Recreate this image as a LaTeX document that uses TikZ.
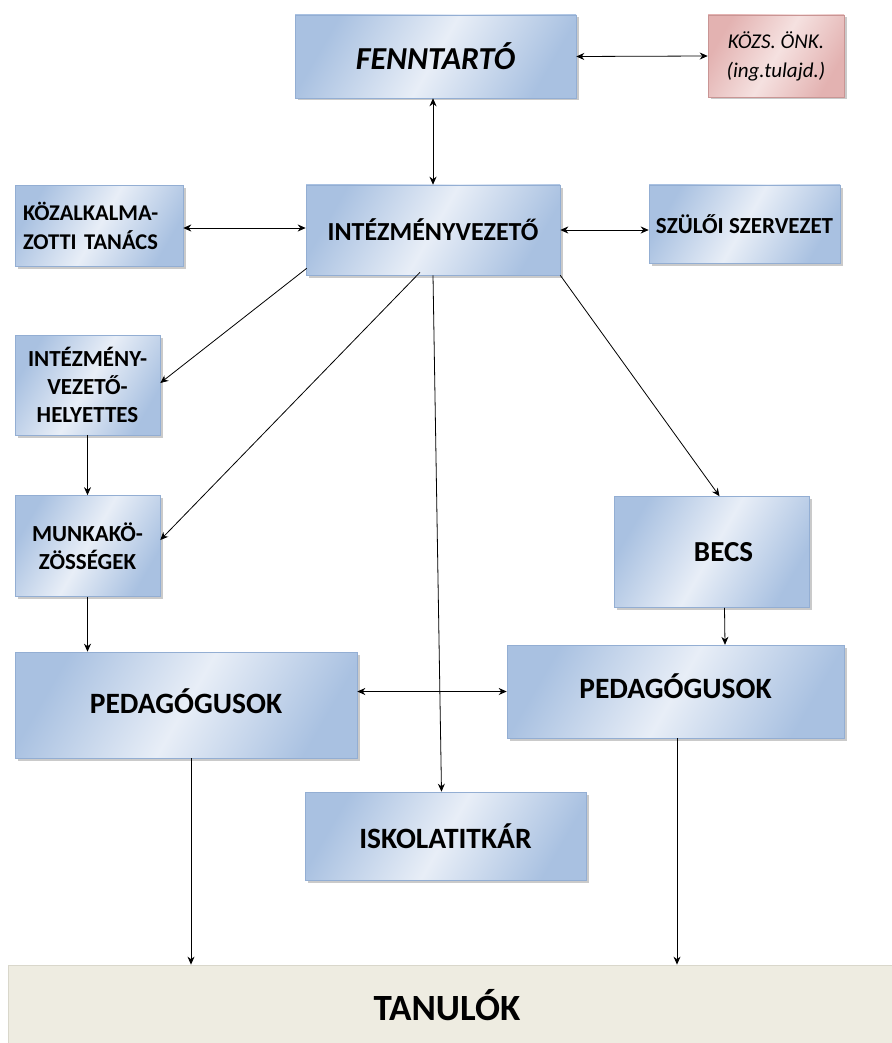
\documentclass[tikz,border=0pt]{standalone}
\usepackage{fontspec}
\setmainfont{Carlito}
\usetikzlibrary{arrows.meta,shadows,calc}
\definecolor{bdark}{HTML}{A9C1E1}
\definecolor{blight}{HTML}{E8EEF7}
\definecolor{bedge}{HTML}{93AED3}
\definecolor{pdark}{HTML}{E3B2B1}
\definecolor{plight}{HTML}{F5E1E0}
\definecolor{pedge}{HTML}{C99594}
\definecolor{beige}{HTML}{EEECE1}
\definecolor{beigeedge}{HTML}{D9D7CB}
\newcommand{\fs}[2]{\fontsize{#1pt}{#2pt}\selectfont}
\tikzset{
  bbox/.style={draw=bedge, line width=0.6pt, shading=axis, left color=bdark, right color=bdark, middle color=blight, shading angle=60,
    drop shadow={shadow xshift=2.5pt, shadow yshift=-2.5pt, fill=gray!70, opacity=0.6},
    inner sep=0pt, align=center},
  pbox/.style={draw=pedge, line width=0.6pt, shading=axis, left color=pdark, right color=pdark, middle color=plight, shading angle=60,
    drop shadow={shadow xshift=2.5pt, shadow yshift=-2.5pt, fill=gray!70, opacity=0.6},
    inner sep=0pt, align=center},
  arr/.style={-{Stealth[length=8pt,width=7pt]}, line width=0.8pt},
  darr/.style={{Stealth[length=8pt,width=7pt]}-{Stealth[length=8pt,width=7pt]}, line width=0.8pt},
}
\begin{document}
\begin{tikzpicture}[x=1pt,y=-1pt]
\useasboundingbox (0,0) rectangle (891,1043);
% boxes
\node[bbox, minimum width=281pt, minimum height=83pt, font=\fs{32}{34}\bfseries\itshape] (fen) at (435.5,56.5) {FENNTARTÓ};
\node[pbox, minimum width=136pt, minimum height=82pt, font=\fs{21}{29}\itshape] (onk) at (776,56) {KÖZS. ÖNK.\\(ing.tulajd.)};
\node[bbox, minimum width=254pt, minimum height=90pt, font=\fs{26}{30}\bfseries] (int) at (433,230) {INTÉZMÉNYVEZETŐ};
\node[bbox, minimum width=168pt, minimum height=81pt, align=left, text width=152pt, font=\fs{22.5}{29}\bfseries] (kt) at (99,226) {KÖZALKALMA-\\ZOTTI TANÁCS};
\node[bbox, minimum width=191pt, minimum height=78pt, font=\fs{23}{28}\bfseries] (sz) at (744.5,224) {SZÜLŐI SZERVEZET};
\node[bbox, minimum width=145pt, minimum height=100pt, font=\fs{23}{28}\bfseries] (ivh) at (87.5,385) {INTÉZMÉNY-\\VEZETŐ-\\HELYETTES};
\node[bbox, minimum width=145pt, minimum height=101pt, font=\fs{23}{28}\bfseries] (mk) at (87.5,546) {MUNKAKÖ-\\ZÖSSÉGEK};
\node[bbox, minimum width=195pt, minimum height=111pt, font=\fs{29}{32}\bfseries] (becs) at (711.5,552) {\hspace*{24pt}BECS};
\node[bbox, minimum width=342pt, minimum height=106pt, font=\fs{29.5}{32}\bfseries] (pl) at (186,705) {\raisebox{8pt}{PEDAGÓGUSOK}};
\node[bbox, minimum width=337pt, minimum height=93pt, font=\fs{29.5}{32}\bfseries] (pr) at (675.5,691.5) {\raisebox{11pt}{PEDAGÓGUSOK}};
\node[bbox, minimum width=281pt, minimum height=88pt, font=\fs{29.5}{32}\bfseries] (isk) at (445.5,836) {ISKOLATITKÁR};
\node[draw=beigeedge, fill=beige, line width=0.8pt, minimum width=890pt, minimum height=80pt, inner sep=0pt, font=\fs{37}{40}\bfseries] (tan) at (453,1005) {\hspace*{-12pt}TANULÓK};
% connectors
\draw[darr] (fen.east) -- (onk.west);
\draw[darr] (fen.south -| int.north) -- (int.north);
\draw[darr] ($(kt.east |- int.west)+(0,-2)$) -- ($(int.west)+(0,-2)$);
\draw[darr] (int.east) -- (int.east -| sz.west);
\draw[arr] ($(int.south west)+(1,-7)$) -- ($(ivh.east)+(0,-2)$);
\draw[arr] ($(int.south)+(-13,-3)$) -- ($(mk.east)+(0,-6)$);
\draw[arr] (int.south) -- ($(isk.north)+(-4,0)$);
\draw[arr] (int.south east) -- ($(becs.north)+(8,0)$);
\draw[arr] (ivh.south) -- (mk.north);
\draw[arr] (mk.south) -- (mk.south |- pl.north);
\draw[arr] ($(becs.south)+(13,0)$) -- ($(becs.south -| pr.north)+(49.5,37)$);
\draw[darr] (pr.west -| pl.east) -- (pr.west);
\draw[arr] ($(pl.south)+(5,0)$) -- ($(pl.south |- tan.north)+(5,0)$);
\draw[arr] ($(pr.south)+(1.5,0)$) -- ($(pr.south |- tan.north)+(1.5,0)$);
\end{tikzpicture}
\end{document}
